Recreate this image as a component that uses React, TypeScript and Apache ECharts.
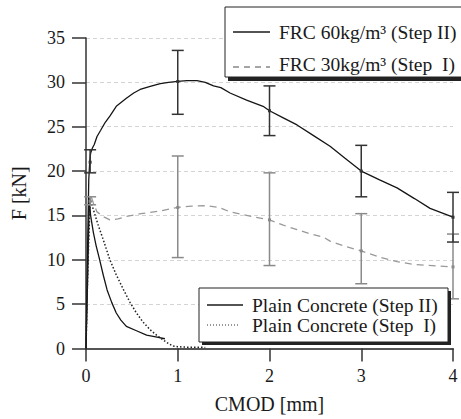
import React, { useEffect, useRef } from "react";
import * as echarts from "echarts";

// CMOD [mm] vs load F [kN] for each mix
const frc60: number[][] = [
  [0, 0], [0.015, 10], [0.03, 19], [0.04, 20.9], [0.05, 22.0], [0.07, 22.6], [0.09, 23.0],
  [0.12, 23.9], [0.16, 24.6], [0.21, 25.5], [0.26, 26.2], [0.33, 27.3], [0.44, 28.2],
  [0.52, 28.8], [0.59, 29.2], [0.7, 29.55], [0.81, 29.85], [0.9, 30.0], [1.0, 30.1],
  [1.1, 30.2], [1.21, 30.2], [1.3, 30.0], [1.39, 29.6], [1.47, 29.4], [1.57, 28.8],
  [1.75, 28.0], [1.93, 27.3], [2.0, 26.8], [2.15, 26.0], [2.3, 25.2], [2.48, 24.0],
  [2.66, 22.8], [2.83, 21.4], [3.0, 20.0], [3.2, 19.0], [3.39, 18.1], [3.58, 16.9],
  [3.75, 15.8], [3.9, 15.2], [4.0, 14.8],
];

const frc30: number[][] = [
  [0, 0], [0.02, 9], [0.035, 16], [0.05, 17.3], [0.08, 16.4], [0.1, 15.9], [0.12, 15.4],
  [0.2, 14.8], [0.26, 14.5], [0.35, 14.6], [0.44, 14.9], [0.6, 15.2], [0.81, 15.5],
  [1.0, 15.9], [1.15, 16.05], [1.32, 16.1], [1.45, 15.9], [1.57, 15.4], [1.8, 14.9],
  [2.0, 14.5], [2.15, 13.9], [2.3, 13.4], [2.45, 12.9], [2.59, 12.55], [2.66, 12.1],
  [2.8, 11.6], [3.0, 11.0], [3.2, 10.3], [3.39, 9.8], [3.55, 9.5], [3.68, 9.4],
  [3.85, 9.3], [4.0, 9.2],
];

const plainII: number[][] = [
  [0, 0], [0.02, 9], [0.035, 17.0], [0.05, 15.0], [0.08, 13.1], [0.11, 11.6], [0.149, 10.0],
  [0.19, 8.2], [0.23, 6.6], [0.28, 5.2], [0.33, 4.0], [0.38, 3.2], [0.44, 2.5],
  [0.55, 2.0], [0.66, 1.5], [0.76, 1.3], [0.86, 1.1],
];

const plainI: number[][] = [
  [0, 0], [0.02, 9], [0.045, 16.8], [0.076, 15.8], [0.13, 14.0], [0.2, 11.9], [0.26, 10.0],
  [0.33, 8.3], [0.41, 6.6], [0.48, 5.2], [0.55, 4.0], [0.62, 3.0], [0.7, 2.1],
  [0.77, 1.5], [0.84, 0.96], [0.9, 0.55], [0.95, 0.28], [1.0, 0.2], [1.1, 0.15],
  [1.2, 0.15], [1.3, 0.12],
];

// error bars: [CMOD, mean, low, high]
const err60: number[][] = [
  [0.045, 21.0, 19.8, 22.4], [1, 30.1, 26.4, 33.6], [2, 26.8, 24.0, 29.6],
  [3, 20.0, 17.1, 22.9], [4, 14.8, 12.0, 17.6],
];
const err30: number[][] = [
  [0.045, 16.6, 16.2, 17.1], [1, 15.9, 10.25, 21.7], [2, 14.5, 9.35, 19.8],
  [3, 11.0, 7.3, 15.2], [4, 9.2, 5.6, 12.9],
];

const xTicks = { min: 0, max: 4, interval: 1 };
const yTicks = { min: 0, max: 35, interval: 5 };

const legendTop = ["FRC 60kg/m\u00b3 (Step II)", "FRC 30kg/m\u00b3 (Step\u00a0 I)"];
const legendBottom = ["Plain Concrete (Step II)", "Plain Concrete (Step\u00a0 I)"];

const FONT = "'Liberation Serif', 'Times New Roman', serif";

function errorBars(data: number[][], color: string) {
  return {
    type: "custom",
    data,
    clip: false,
    z: 3,
    encode: { x: 0, y: [1, 2, 3] },
    renderItem: (_p: any, api: any) => {
      const x = api.value(0);
      const hi = api.coord([x, api.value(3)]);
      const lo = api.coord([x, api.value(2)]);
      const mid = api.coord([x, api.value(1)]);
      const w = 6;
      const st = { stroke: color, lineWidth: 1.5 };
      return {
        type: "group",
        children: [
          { type: "line", shape: { x1: hi[0], y1: hi[1], x2: lo[0], y2: lo[1] }, style: st },
          { type: "line", shape: { x1: hi[0] - w, y1: hi[1], x2: hi[0] + w, y2: hi[1] }, style: st },
          { type: "line", shape: { x1: lo[0] - w, y1: lo[1], x2: lo[0] + w, y2: lo[1] }, style: st },
          { type: "rect", shape: { x: mid[0] - 1.5, y: mid[1] - 1.5, width: 3, height: 3 }, style: { fill: color } },
        ],
      };
    },
  };
}

function lineSeries(name: string, data: number[][], color: string, type: any, width = 1.3) {
  return {
    name,
    type: "line",
    data,
    showSymbol: false,
    symbol: "none",
    z: 2,
    lineStyle: { color, width, type },
  };
}

export default function App() {
  const ref = useRef<HTMLDivElement>(null);

  useEffect(() => {
    if (!ref.current) return;
    const chart = echarts.init(ref.current, null, { renderer: "svg" });
    const txt = (x: number, y: number, text: string) => ({
      type: "text",
      x,
      y,
      z: 11,
      style: { text, fontFamily: FONT, fontSize: 19.5, fill: "#1a1a1a", verticalAlign: "middle", align: "left" },
    });
    const seg = (x1: number, x2: number, y: number, dash: any, color = "#1a1a1a", w = 1.3) => ({
      type: "line",
      z: 11,
      shape: { x1, y1: y, x2, y2: y },
      style: { stroke: color, lineWidth: w, lineDash: dash },
    });

    chart.setOption({
      animation: false,
      backgroundColor: "#ffffff",
      grid: { left: 86, right: 8, top: 38, bottom: 70.5 },
      xAxis: {
        type: "value",
        ...xTicks,
        name: "CMOD [mm]",
        nameLocation: "middle",
        nameGap: 45,
        nameTextStyle: { fontFamily: FONT, fontSize: 20, color: "#1a1a1a" },
        axisLine: { show: true, onZero: false, lineStyle: { color: "#555", width: 2 } },
        axisTick: { show: true, inside: false, length: 13, lineStyle: { color: "#333", width: 1.5 } },
        axisLabel: { fontFamily: FONT, fontSize: 18, color: "#1a1a1a", margin: 18 },
        splitLine: { show: false },
      },
      yAxis: {
        type: "value",
        ...yTicks,
        name: "F [kN]",
        nameLocation: "middle",
        nameGap: 57,
        nameTextStyle: { fontFamily: FONT, fontSize: 20, color: "#1a1a1a" },
        axisLine: { show: true, lineStyle: { color: "#333", width: 1.5 } },
        axisTick: { show: true, inside: false, length: 14, lineStyle: { color: "#333", width: 1.5 } },
        axisLabel: { fontFamily: FONT, fontSize: 18, color: "#1a1a1a", margin: 21 },
        splitLine: { show: true, lineStyle: { color: "#d4d4d4", width: 1, type: [4, 3] } },
      },
      series: [
        lineSeries(legendTop[1], frc30, "#999999", [7, 5]),
        lineSeries(legendTop[0], frc60, "#151515", "solid"),
        lineSeries(legendBottom[0], plainII, "#151515", "solid"),
        lineSeries(legendBottom[1], plainI, "#222222", [1.5, 2], 1.5),
        errorBars(err30, "#8a8a8a"),
        errorBars(err60, "#333333"),
      ],
      graphic: [
        // upper legend box with its shadow
        { type: "rect", z: 9, shape: { x: 228, y: 11, width: 260, height: 70 }, style: { fill: "#222" } },
        { type: "rect", z: 10, shape: { x: 225, y: 7, width: 260, height: 70 }, style: { fill: "#fff", stroke: "#222", lineWidth: 1 } },
        seg(233, 270, 32, null),
        txt(279, 32, legendTop[0]),
        seg(233, 270, 67, [6, 5], "#888"),
        txt(279, 64, legendTop[1]),
        // lower legend box with its shadow
        { type: "rect", z: 9, shape: { x: 202, y: 291, width: 249, height: 54 }, style: { fill: "#222" } },
        { type: "rect", z: 10, shape: { x: 199, y: 288, width: 249, height: 54 }, style: { fill: "#fff", stroke: "#222", lineWidth: 1 } },
        seg(207, 243, 305, null),
        txt(252, 305, legendBottom[0]),
        seg(207, 239, 325, [1, 2], "#333", 1.2),
        txt(252, 325, legendBottom[1]),
      ],
    });
    return () => chart.dispose();
  }, []);

  return (
    <div
      ref={ref}
      style={{ position: "fixed", left: 0, top: 0, width: 461, height: 419, background: "#fff" }}
    />
  );
}
